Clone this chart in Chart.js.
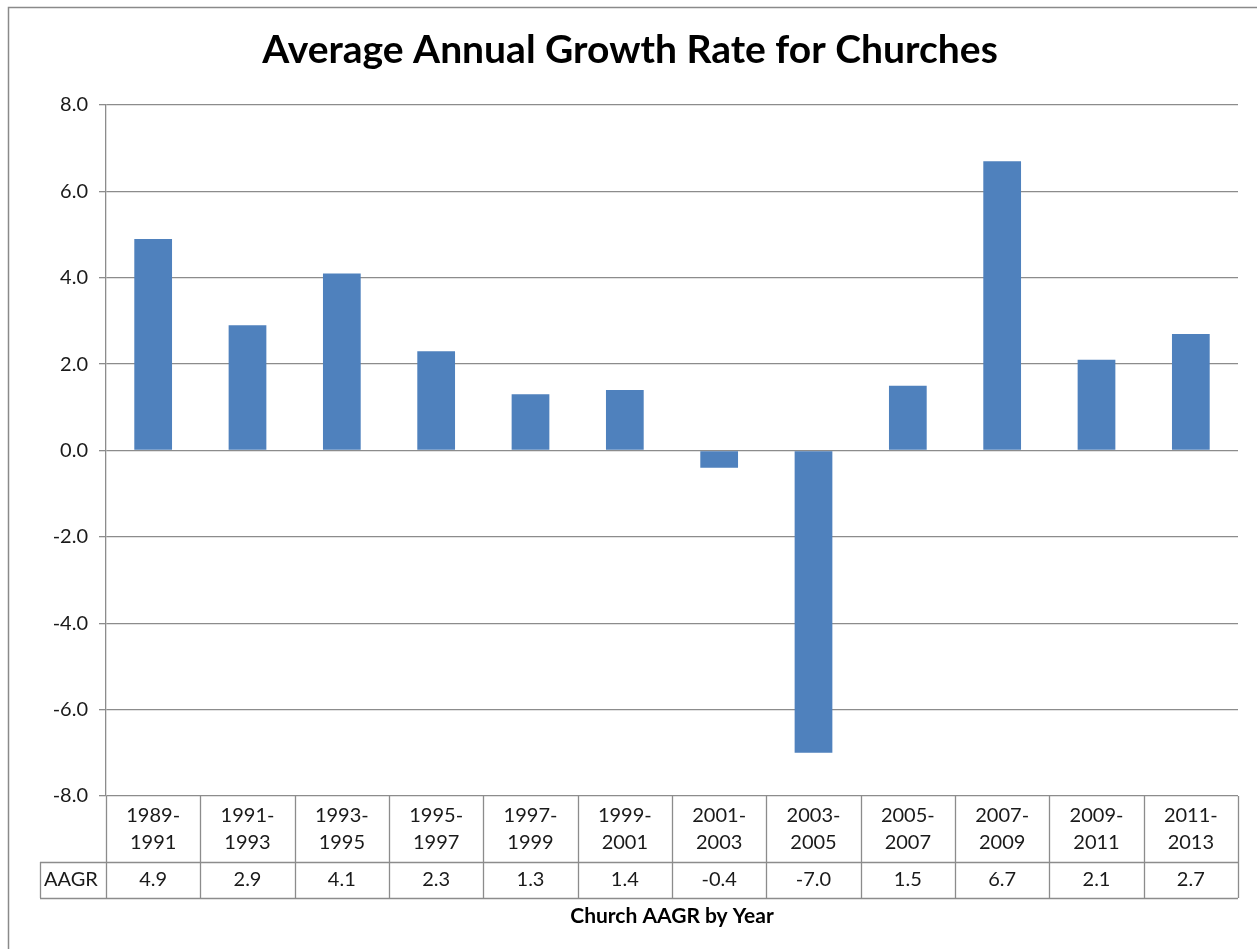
<!DOCTYPE html>
<html>
<head>
<meta charset="utf-8">
<script src="https://cdn.jsdelivr.net/npm/chart.js@4/dist/chart.umd.min.js"></script>
<style>
  html, body { margin: 0; padding: 0; background: #fff; }
  canvas { display: block; }
</style>
</head>
<body>
<canvas id="c" width="1257" height="949"></canvas>
<script>
const chartTitle = 'Average Annual Growth Rate for Churches';
const axisTitle = 'Church AAGR by Year';
const seriesName = 'AAGR';
const categories = [
  ['1989-', '1991'], ['1991-', '1993'], ['1993-', '1995'], ['1995-', '1997'],
  ['1997-', '1999'], ['1999-', '2001'], ['2001-', '2003'], ['2003-', '2005'],
  ['2005-', '2007'], ['2007-', '2009'], ['2009-', '2011'], ['2011-', '2013']
];
const aagrValues = [4.9, 2.9, 4.1, 2.3, 1.3, 1.4, -0.4, -7.0, 1.5, 6.7, 2.1, 2.7];
const yMin = -8, yMax = 8, yStep = 2;

const FONT = 'Lato, "Open Sans", sans-serif';
const LINE = '#8c8c8c';

const tablePlugin = {
  id: 'tablePlugin',
  afterDraw(chart) {
    const ctx = chart.ctx;
    const ca = chart.chartArea;
    const xs = chart.scales.x;
    const n = categories.length;
    const w = (ca.right - ca.left) / n;
    const rowTop = ca.bottom;
    const rowMid = ca.bottom + 66;
    const rowBot = ca.bottom + 102;
    const labelLeft = 40;
    ctx.save();
    // outer frame (left + top)
    ctx.strokeStyle = '#8a8a8a';
    ctx.lineWidth = 1.5;
    ctx.beginPath();
    ctx.moveTo(8.5, 949); ctx.lineTo(8.5, 7.5); ctx.lineTo(1257, 7.5);
    ctx.stroke();

    // title
    ctx.fillStyle = '#000';
    ctx.font = 'bold 39px ' + FONT;
    ctx.textAlign = 'center';
    ctx.textBaseline = 'middle';
    ctx.fillText(chartTitle, 630, 50);

    // table lines
    ctx.strokeStyle = LINE;
    ctx.lineWidth = 1.3;
    ctx.beginPath();
    for (let i = 0; i <= n; i++) {
      const x = Math.round(ca.left + i * w) + 0.5;
      ctx.moveTo(x, rowTop); ctx.lineTo(x, rowBot);
    }
    ctx.moveTo(labelLeft + 0.5, rowMid); ctx.lineTo(labelLeft + 0.5, rowBot);
    ctx.moveTo(labelLeft, rowMid + 0.5); ctx.lineTo(ca.right, rowMid + 0.5);
    ctx.moveTo(labelLeft, rowBot + 0.5); ctx.lineTo(ca.right, rowBot + 0.5);
    ctx.stroke();

    // category labels & values
    ctx.fillStyle = '#1a1a1a';
    ctx.font = '20px ' + FONT;
    ctx.textAlign = 'center';
    for (let i = 0; i < n; i++) {
      const cx = xs.getPixelForValue(i);
      ctx.fillText(categories[i][0], cx, rowTop + 20);
      ctx.fillText(categories[i][1], cx, rowTop + 47);
      ctx.fillText(aagrValues[i].toFixed(1), cx, rowMid + 18);
    }
    ctx.textAlign = 'left';
    ctx.fillText(seriesName, labelLeft + 4, rowMid + 18);

    // axis title
    ctx.font = 'bold 21px ' + FONT;
    ctx.textAlign = 'center';
    ctx.fillStyle = '#000';
    ctx.fillText(axisTitle, 672, rowBot + 18);
    ctx.restore();
  }
};

new Chart(document.getElementById('c'), {
  type: 'bar',
  data: {
    labels: categories,
    datasets: [{
      label: seriesName,
      data: aagrValues,
      backgroundColor: '#4f81bd',
      borderWidth: 0,
      categoryPercentage: 1.0,
      barPercentage: 0.4
    }]
  },
  options: {
    responsive: false,
    animation: false,
    devicePixelRatio: 1,
    layout: { padding: { left: 0, right: 19, top: 105, bottom: 153 } },
    plugins: { legend: { display: false }, title: { display: false }, tooltip: { enabled: false } },
    scales: {
      x: { display: false },
      y: {
        min: yMin, max: yMax,
        afterFit(scale) { scale.width = 106; },
        ticks: {
          stepSize: yStep,
          padding: 11,
          color: '#1a1a1a',
          font: { family: FONT, size: 20 },
          callback: v => Number(v).toFixed(1)
        },
        grid: { color: LINE, lineWidth: 1.3, tickLength: 7, drawTicks: true },
        border: { color: LINE, width: 1.3 }
      }
    }
  },
  plugins: [tablePlugin]
});
</script>
</body>
</html>
